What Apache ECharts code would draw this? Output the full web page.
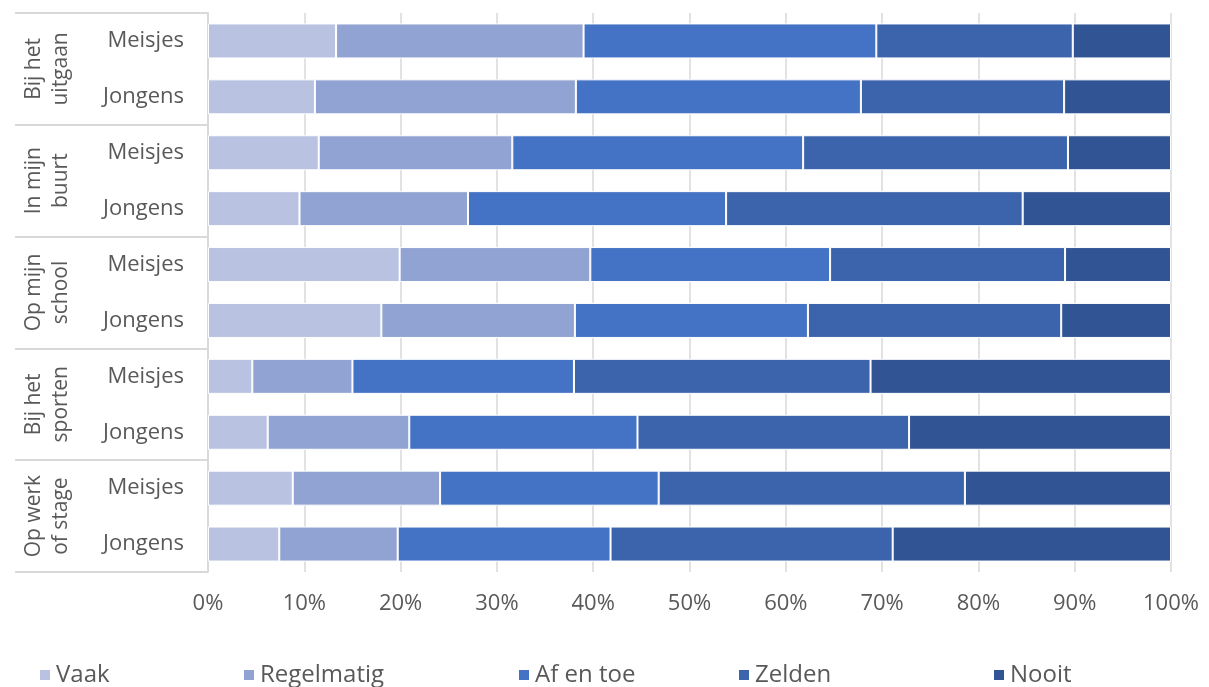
<!DOCTYPE html>
<html>
<head>
<meta charset="utf-8">
<script src="https://cdn.jsdelivr.net/npm/echarts@6/dist/echarts.min.js"></script>
<style>
html,body{margin:0;padding:0;background:#fff;}
#chart{width:1209px;height:687px;}
</style>
</head>
<body>
<div id="chart"></div>
<script>
const groups = ['Bij het\nuitgaan', 'In mijn\nbuurt', 'Op mijn\nschool', 'Bij het\nsporten', 'Op werk\nof stage'];
const subLabels = ['Meisjes', 'Jongens'];
const seriesNames = ['Vaak', 'Regelmatig', 'Af en toe', 'Zelden', 'Nooit'];
const xTicks = [0, 10, 20, 30, 40, 50, 60, 70, 80, 90, 100];

// rows top to bottom: per group Meisjes, Jongens
const vaak       = [13.3, 11.1, 11.5,  9.5, 19.9, 18.0,  4.6,  6.2,  8.8,  7.4];
const regelmatig = [25.7, 27.1, 20.1, 17.5, 19.8, 20.1, 10.4, 14.7, 15.3, 12.3];
const afentoe    = [30.4, 29.6, 30.2, 26.8, 24.9, 24.2, 23.0, 23.7, 22.7, 22.1];
const zelden     = [20.4, 21.1, 27.5, 30.8, 24.4, 26.3, 30.8, 28.2, 31.8, 29.3];
const nooit      = [10.2, 11.1, 10.7, 15.4, 11.0, 11.4, 31.2, 27.2, 21.4, 28.9];

const colors = ['#B9C2E1', '#91A3D3', '#4472C4', '#3B64AD', '#305494'];
const values = [vaak, regelmatig, afentoe, zelden, nooit];

const rowIds = [];
groups.forEach((g, gi) => subLabels.forEach(s => rowIds.push(gi + '|' + s)));

const FONT = 'Open Sans';
const TXT = '#595959';

const chart = echarts.init(document.getElementById('chart'));
const legendLefts = [33, 237, 512, 732, 987];
const option = {
  animation: false,
  color: colors,
  grid: { left: 208, right: 38, top: 13, bottom: 115, containLabel: false },
  legend: seriesNames.map((n, i) => ({
    data: [n], left: legendLefts[i], top: 658, itemWidth: 12, itemHeight: 12, itemGap: 7,
    icon: 'rect', selectedMode: false,
    textStyle: { fontFamily: FONT, fontSize: 24, color: TXT }
  })),
  xAxis: {
    type: 'value', min: 0, max: 100, interval: 10,
    axisLine: { show: false }, axisTick: { show: false },
    splitLine: { show: true, lineStyle: { color: '#D9D9D9', width: 1.5 } },
    axisLabel: { formatter: '{value}%', fontFamily: FONT, fontSize: 22, color: TXT, margin: 21,
      customValues: xTicks }
  },
  yAxis: [
    {
      type: 'category', data: rowIds, inverse: true, position: 'left',
      axisLine: { show: true, lineStyle: { color: '#D9D9D9', width: 1.5 } },
      axisTick: { show: false },
      axisLabel: { interval: 0, hideOverlap: false, formatter: v => v.split('|')[1], fontFamily: FONT, fontSize: 22, color: TXT, margin: 24 }
    },
    {
      type: 'category', data: groups, inverse: true, position: 'left', offset: 0,
      axisLine: { show: true, lineStyle: { color: '#D9D9D9', width: 1.5 } },
      axisTick: { show: true, interval: 0, length: 193, lineStyle: { color: '#D9D9D9', width: 2 } },
      axisLabel: { interval: 0, hideOverlap: false, rotate: 90, fontFamily: FONT, fontSize: 21, color: TXT, margin: 133, lineHeight: 27,
        align: 'center', verticalAlign: 'bottom' }
    }
  ],
  series: seriesNames.map((n, i) => ({
    name: n, type: 'bar', stack: 'total', yAxisIndex: 0, barWidth: 35,
    itemStyle: { color: colors[i], borderColor: '#ffffff', borderWidth: 1 },
    data: values[i]
  }))
};
chart.setOption(option);
</script>
</body>
</html>
